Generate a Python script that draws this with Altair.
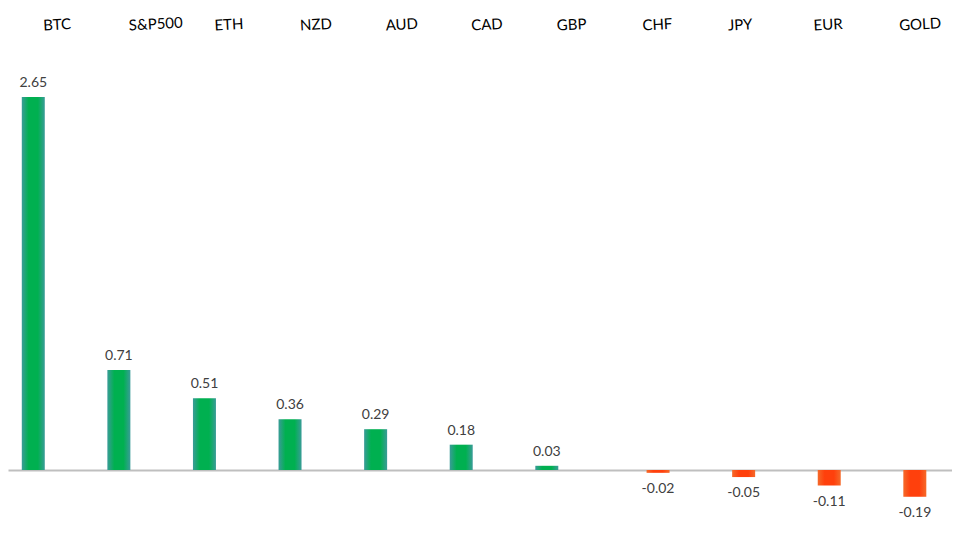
import altair as alt
import pandas as pd

categories = ["BTC", "S&P500", "ETH", "NZD", "AUD", "CAD", "GBP", "CHF", "JPY", "EUR", "GOLD"]
values = [2.65, 0.71, 0.51, 0.36, 0.29, 0.18, 0.03, -0.02, -0.05, -0.11, -0.19]

df = pd.DataFrame({
    "category": categories,
    "value": values,
    "idx": list(range(len(categories))),
})

xscale = alt.Scale(domain=[-0.237, 10.676], nice=False, zero=False)
yscale = alt.Scale(domain=[-0.419, 3.055], nice=False, zero=False)

# bars: the negative group sits a little further right (as in the reference)
x_bar = alt.X("pos:Q", scale=xscale, axis=None)
x_lab = alt.X("idx:Q", scale=xscale, axis=None)

green_grad = alt.Gradient(
    gradient="linear", x1=0, x2=1, y1=0, y2=0,
    stops=[alt.GradientStop(offset=0, color="#3A9C98"),
           alt.GradientStop(offset=0.3, color="#00B050"),
           alt.GradientStop(offset=0.7, color="#00B050"),
           alt.GradientStop(offset=1, color="#3A9C98")])
red_grad = alt.Gradient(
    gradient="linear", x1=0, x2=1, y1=0, y2=0,
    stops=[alt.GradientStop(offset=0, color="#F56A2A"),
           alt.GradientStop(offset=0.3, color="#FF400C"),
           alt.GradientStop(offset=0.7, color="#FF400C"),
           alt.GradientStop(offset=1, color="#F56A2A")])

base = alt.Chart(df).transform_calculate(
    pos="datum.idx + (datum.value < 0 ? 0.3 : 0)",
    label="replace(format(datum.value, '.2f'), '\u2212', '-')",
)

zero_axis = alt.Axis(values=[0], grid=True, gridColor="#BFBFBF", gridWidth=2,
                     labels=False, ticks=False, domain=False, title=None)

pos_bars = base.transform_filter("datum.value >= 0").mark_bar(size=23, color=green_grad).encode(
    x=x_bar,
    y=alt.Y("value:Q", scale=yscale, axis=zero_axis),
    y2=alt.datum(0),
)
neg_bars = base.transform_filter("datum.value < 0").mark_bar(size=23, color=red_grad).encode(
    x=x_bar,
    y=alt.Y("value:Q", scale=yscale),
    y2=alt.datum(0),
)

pos_text = base.transform_filter("datum.value >= 0").mark_text(
    baseline="bottom", dy=-7, font="Lato", fontSize=14, color="#404040"
).encode(
    x=x_bar,
    y=alt.Y("value:Q", scale=yscale),
    text="label:N",
)
neg_text = base.transform_filter("datum.value < 0").mark_text(
    baseline="top", dy=9, font="Lato", fontSize=14, color="#404040"
).encode(
    x=x_bar,
    y=alt.Y("value:Q", scale=yscale),
    text="label:N",
)

cat_text = base.mark_text(
    baseline="middle", align="left", dx=10, angle=357, font="Lato", fontSize=15, color="#000000"
).encode(
    x=x_lab,
    y=alt.value(-14),
    text="category:N",
)

chart = alt.layer(pos_bars, neg_bars, pos_text, neg_text, cat_text).properties(
    width=944,
    height=489,
    autosize=alt.AutoSizeParams(type="none"),
    padding={"left": 0, "top": 32, "right": 0, "bottom": 0},
).configure_view(stroke=None)

chart.save("out.html", embed_options={"renderer": "svg", "actions": False})
